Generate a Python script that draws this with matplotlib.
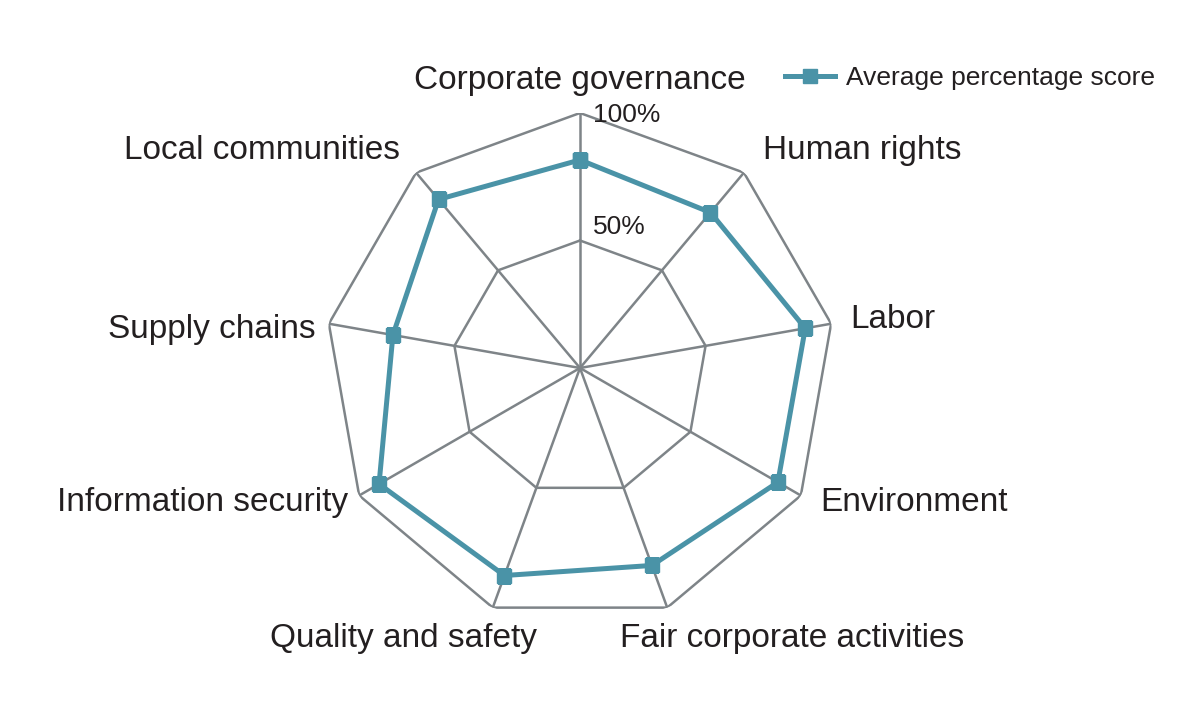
import numpy as np
import matplotlib
matplotlib.use("Agg")
import matplotlib.pyplot as plt

plt.rcParams['font.family'] = ['Liberation Sans', 'DejaVu Sans']

# Radar: average percentage score per CSR category
categories = ["Corporate governance", "Human rights", "Labor", "Environment",
              "Fair corporate activities", "Quality and safety",
              "Information security", "Supply chains", "Local communities"]
scores = [81.6, 79.6, 89.7, 89.6, 82.4, 86.6, 91.0, 74.5, 86.3]
grid_levels = [50, 100]
grid_labels = ["50%", "100%"]
series_name = "Average percentage score"

TEAL = "#4a93a7"
GRAY = "#7e8488"
INK = "#231f20"

n = len(categories)
theta = np.linspace(0, 2 * np.pi, n, endpoint=False)
theta_c = np.append(theta, theta[0])

fig = plt.figure(figsize=(12, 7.15), dpi=100)
# centre ~ (580, 368) px, radius 255 px
ax = fig.add_axes([(580 - 255) / 1200, 1 - (368 + 255) / 715, 510 / 1200, 510 / 715],
                  projection='polar')
ax.set_theta_zero_location('N')
ax.set_theta_direction(-1)
ax.set_ylim(0, 100)
ax.grid(False)
ax.set_xticks([])
ax.set_yticks([])
ax.spines['polar'].set_visible(False)
ax.patch.set_visible(False)

# polygon grid + spokes
for lvl in grid_levels:
    ax.plot(theta_c, [lvl] * (n + 1), color=GRAY, lw=1.8, zorder=1)
for t in theta:
    ax.plot([t, t], [0, 100], color=GRAY, lw=1.8, zorder=1)

# data
ax.plot(theta_c, scores + scores[:1], color=TEAL, lw=3.6, marker='s',
        markersize=10, zorder=3, label=series_name)

# level labels
for lvl, lab, dy in zip(grid_levels, grid_labels, [14, -2]):
    ax.annotate(lab, xy=(0, lvl), xytext=(13, dy), textcoords='offset pixels',
                ha='left', va='center', fontsize=19, color=INK)

# category labels (offsets in pixels from outer vertex)
offsets = [(0, 33, 'center'), (19, 22, 'left'), (19, 4, 'left'), (19, -7, 'left'),
           (-47, -31, 'left'), (44, -31, 'right'), (-11, -7, 'right'),
           (-13, -6, 'right'), (-16, 22, 'right')]
for t, lab, (dx, dy, ha) in zip(theta, categories, offsets):
    ax.annotate(lab, xy=(t, 100), xytext=(dx, dy), textcoords='offset pixels',
                ha=ha, va='center', fontsize=24, color=INK)

leg = fig.legend(loc='center left', bbox_to_anchor=(785 / 1200, 1 - 78 / 715),
                 frameon=False, handlelength=1.9, handletextpad=0.4,
                 borderpad=0, borderaxespad=0,
                 prop={'size': 19})
for t in leg.get_texts():
    t.set_color(INK)

fig.savefig("out.png", dpi=100)
